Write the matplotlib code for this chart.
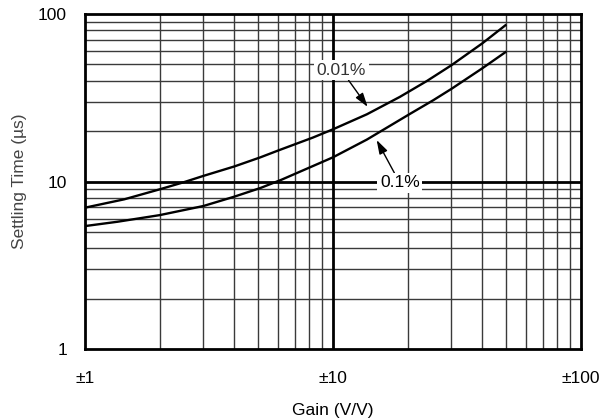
import matplotlib
matplotlib.use("Agg")
import matplotlib.pyplot as plt
from matplotlib.ticker import NullLocator

plt.rcParams['font.family'] = ['Liberation Sans', 'DejaVu Sans']

gain_001 = [1, 1.44, 2.0, 2.5, 3.0, 4.0, 5.1, 6.0, 8.3, 10, 13.7, 18.6, 23.9, 30, 40, 50]
settle_001 = [6.98, 7.83, 8.98, 9.9, 10.8, 12.3, 13.95, 15.3, 18.3, 20.5, 25.2, 32.0,
              39.8, 49.4, 66.8, 86.5]

gain_01 = [1, 1.35, 2.0, 3.0, 4.0, 5.1, 6.2, 8.3, 10, 13.7, 20.4, 25.4, 30, 40, 50]
settle_01 = [5.42, 5.75, 6.3, 7.14, 8.12, 9.15, 10.25, 12.37, 13.95, 17.8, 25.3, 30.6,
             35.7, 47.4, 59.7]

x_ticks = [1, 10, 100]
x_labels = ['±1', '±10', '±100']
y_ticks = [1, 10, 100]
y_labels = ['1', '10', '100']

fig = plt.figure(figsize=(6.10, 4.20), dpi=100)
ax = fig.add_axes([0.1393, 0.169, 0.8131, 0.7976])
ax.set_xscale('log')
ax.set_yscale('log')
ax.set_xlim(1, 100)
ax.set_ylim(1, 100)

# grid
minor = [m * 10**d for d in range(0, 2) for m in range(2, 10)]
for v in minor:
    ax.axvline(v, color='#3a3a3a', lw=1.0, zorder=1)
    ax.axhline(v, color='#3a3a3a', lw=1.0, zorder=1)
ax.axvline(10, color='black', lw=2.0, zorder=1)
ax.axhline(10, color='black', lw=2.0, zorder=1)

ax.plot(gain_001, settle_001, color='black', lw=1.7, zorder=3, solid_capstyle='butt')
ax.plot(gain_01, settle_01, color='black', lw=1.7, zorder=3, solid_capstyle='butt')

ax.set_xticks(x_ticks)
ax.set_xticklabels(x_labels)
ax.set_yticks(y_ticks)
ax.set_yticklabels(y_labels)
ax.xaxis.set_minor_locator(NullLocator())
ax.yaxis.set_minor_locator(NullLocator())
ax.tick_params(axis='both', which='both', length=0, labelsize=12.5, colors='black')
ax.tick_params(axis='x', pad=16)
ax.tick_params(axis='y', pad=13)

for s in ax.spines.values():
    s.set_linewidth(2.0)
    s.set_color('black')
    s.set_zorder(4)

ax.set_xlabel('Gain (V/V)', fontsize=12.5, labelpad=12)
ax.set_ylabel('Settling Time (µs)', fontsize=12.5, labelpad=8, color='#444444')

bbox = dict(boxstyle='square,pad=0.15', fc='white', ec='none')
ax.annotate('0.01%', xy=(13.8, 27.9), xytext=(10.8, 46.3),
            ha='center', va='center', fontsize=12.5, color='#333333', bbox=bbox, zorder=5,
            arrowprops=dict(arrowstyle='-|>,head_length=0.7,head_width=0.22', color='black',
                            lw=1.0, mutation_scale=12, shrinkA=0, shrinkB=0))
ax.annotate('0.1%', xy=(15.0, 17.7), xytext=(18.6, 9.8),
            ha='center', va='center', fontsize=12.5, color='black', bbox=bbox, zorder=5,
            arrowprops=dict(arrowstyle='-|>,head_length=0.7,head_width=0.22', color='black',
                            lw=1.0, mutation_scale=12, shrinkA=0, shrinkB=0))

fig.savefig('out.png', dpi=100)
